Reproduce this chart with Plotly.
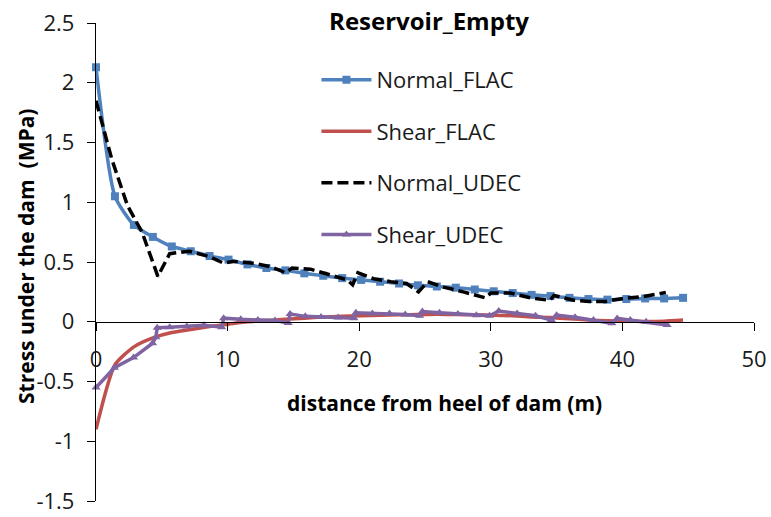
import plotly.graph_objects as go

# FLAC grid-point distances along the dam base (m)
flac_x = [0.0, 1.44, 2.88, 4.32, 5.76, 7.2, 8.63, 10.07, 11.51, 12.95, 14.39, 15.83,
          17.27, 18.71, 20.15, 21.59, 23.03, 24.46, 25.9, 27.34, 28.78, 30.22, 31.66,
          33.1, 34.54, 35.98, 37.42, 38.86, 40.3, 41.73, 43.17, 44.61]
normal_flac = [2.13, 1.05, 0.81, 0.71, 0.63, 0.59, 0.55, 0.52, 0.48, 0.45, 0.43, 0.405,
               0.385, 0.365, 0.35, 0.335, 0.32, 0.305, 0.295, 0.285, 0.27, 0.255, 0.24,
               0.225, 0.215, 0.20, 0.19, 0.185, 0.19, 0.195, 0.195, 0.20]
shear_flac = [-0.90, -0.36, -0.21, -0.135, -0.09, -0.065, -0.04, -0.02, 0.0, 0.01, 0.02,
              0.03, 0.04, 0.045, 0.05, 0.055, 0.058, 0.06, 0.062, 0.06, 0.058, 0.055,
              0.05, 0.04, 0.035, 0.025, 0.015, 0.008, 0.005, 0.003, 0.005, 0.015]

# UDEC contact-point results
udec_normal_x = [0.0, 1.2, 2.4, 3.5, 4.7, 5.6, 7.1, 8.6, 9.7, 10.4, 12.0, 13.3, 14.4,
                 14.9, 16.3, 17.8, 19.1, 19.5, 19.9, 21.1, 22.4, 23.6, 24.5, 25.2, 26.4,
                 27.9, 29.6, 30.0, 31.5, 33.0, 34.5, 34.8, 36.3, 37.5, 38.7, 40.1, 41.6,
                 43.3]
normal_udec = [1.85, 1.36, 0.97, 0.75, 0.38, 0.57, 0.59, 0.545, 0.49, 0.505, 0.49, 0.46,
               0.41, 0.45, 0.44, 0.39, 0.35, 0.31, 0.41, 0.36, 0.335, 0.32, 0.25, 0.335,
               0.29, 0.25, 0.20, 0.24, 0.24, 0.20, 0.18, 0.22, 0.18, 0.17, 0.17, 0.195,
               0.21, 0.245]
udec_shear_x = [0.0, 1.4, 2.85, 4.3, 4.55, 4.65, 5.6, 6.9, 8.2, 9.55, 9.7, 11.0, 12.3,
                13.6, 14.6, 14.75, 15.9, 17.1, 18.4, 19.6, 19.75, 21.0, 22.3, 23.5, 24.6,
                24.8, 26.1, 27.5, 28.9, 29.9, 30.6, 32.0, 33.4, 34.6, 35.0, 36.4, 37.8,
                39.2, 39.6, 40.6, 41.8, 43.4]
shear_udec = [-0.55, -0.385, -0.30, -0.18, -0.13, -0.05, -0.045, -0.04, -0.03, -0.045,
              0.03, 0.02, 0.015, 0.01, -0.01, 0.065, 0.045, 0.04, 0.035, 0.03, 0.075,
              0.07, 0.07, 0.06, 0.05, 0.085, 0.075, 0.065, 0.055, 0.05, 0.09, 0.07, 0.05,
              0.015, 0.055, 0.037, 0.015, -0.013, 0.028, 0.014, 0.0, -0.028]

y_ticks = [2.5, 2, 1.5, 1, 0.5, 0, -0.5, -1, -1.5]
y_tick_text = ["2.5", "2", "1.5", "1", "0.5", "0", "-0.5", "-1", "-1.5"]
x_ticks = [0, 10, 20, 30, 40, 50]

TXT = "#1a1a1a"
FONT = "Open Sans"

fig = go.Figure()
fig.add_trace(go.Scatter(
    x=flac_x, y=normal_flac, name="Normal_FLAC", legendgroup="a",
    mode="lines+markers", line=dict(color="#4F81BD", width=3.5, shape="spline", smoothing=0.6),
    marker=dict(symbol="square", size=8, color="#4F81BD"), cliponaxis=False))
fig.add_trace(go.Scatter(
    x=flac_x, y=shear_flac, name="Shear_FLAC", legendgroup="b",
    mode="lines", line=dict(color="#C0504D", width=3.5, shape="spline", smoothing=0.6),
    cliponaxis=False))
fig.add_trace(go.Scatter(
    x=udec_normal_x, y=normal_udec, name="Normal_UDEC", legendgroup="c",
    mode="lines", line=dict(color="black", width=3.5, dash="11px,5px"),
    cliponaxis=False))
fig.add_trace(go.Scatter(
    x=udec_shear_x, y=shear_udec, name="Shear_UDEC", legendgroup="d",
    mode="lines+markers", line=dict(color="#8064A2", width=3.5),
    marker=dict(symbol="triangle-up", size=8, color="#8064A2"), cliponaxis=False))

fig.update_layout(
    width=771, height=517,
    margin=dict(l=96, r=17, t=23, b=16, autoexpand=False),
    paper_bgcolor="white", plot_bgcolor="white",
    font=dict(family=FONT, size=22, color=TXT),
    title=dict(text="<b>Reservoir_Empty</b>", x=429 / 771, xanchor="center",
               y=1 - 22 / 517, yanchor="middle",
               font=dict(family=FONT, size=24, color="black")),
    legend=dict(x=0.335, y=0.925, xanchor="left", yanchor="top",
                bgcolor="rgba(0,0,0,0)", traceorder="grouped", tracegroupgap=20,
                itemwidth=50, font=dict(family=FONT, size=22, color=TXT)),
    showlegend=True,
)

fig.update_xaxes(
    range=[0, 50], tickvals=x_ticks, ticktext=[str(v) for v in x_ticks],
    showgrid=False, zeroline=False, showline=True, linecolor="black", linewidth=1.3,
    ticks="outside", ticklen=8, tickcolor="black", tickwidth=1.3,
    anchor="free", position=0.375, ticklabelstandoff=10, automargin=False,
    tickfont=dict(family=FONT, size=22, color=TXT))
fig.update_yaxes(
    range=[-1.5, 2.5], tickvals=y_ticks, ticktext=y_tick_text,
    showgrid=False, zeroline=False, showline=True, linecolor="black", linewidth=1.3,
    ticks="outside", ticklen=8, tickcolor="black", tickwidth=1.3,
    ticklabelstandoff=8, automargin=False,
    tickfont=dict(family=FONT, size=22, color=TXT))

# Axis titles
fig.add_annotation(text="<b>distance from heel of dam (m)</b>", xref="paper", yref="paper",
                   x=(444 - 96) / 658, y=(501 - 403) / 478, showarrow=False,
                   xanchor="center", yanchor="middle",
                   font=dict(family=FONT, size=21, color="black"))
fig.add_annotation(text="<b>Stress under the dam \u00a0(MPa)</b>", xref="paper", yref="paper",
                   x=(26 - 96) / 658, y=(501 - 257) / 478, showarrow=False, textangle=-90,
                   xanchor="center", yanchor="middle",
                   font=dict(family=FONT, size=21, color="black"))

fig.write_html("out.html")
